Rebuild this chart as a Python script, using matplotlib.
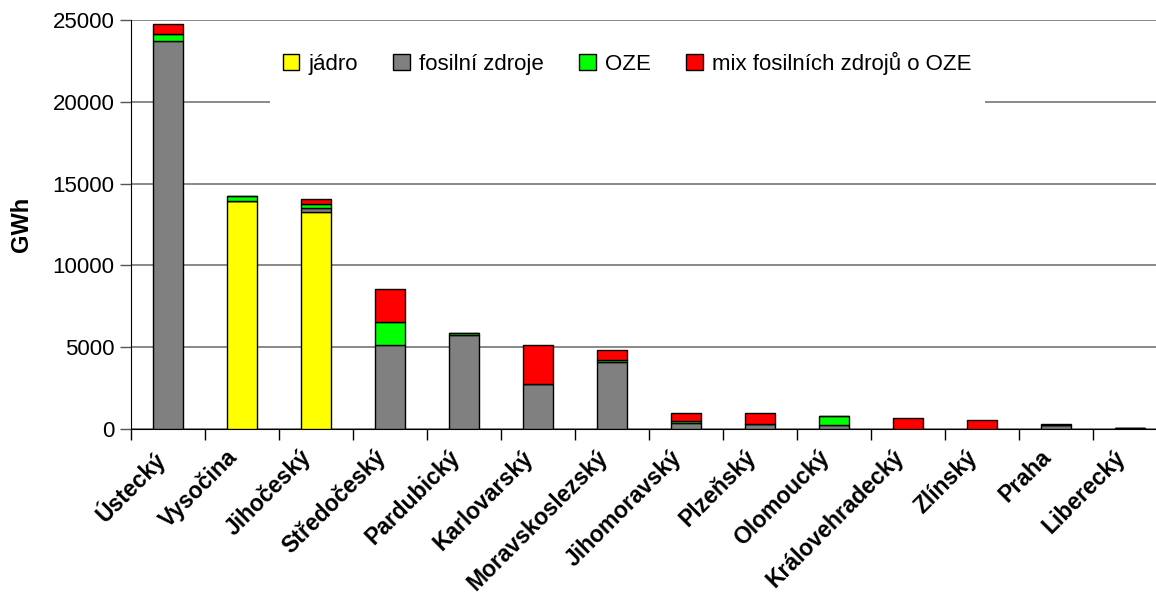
import matplotlib
matplotlib.use("Agg")
import matplotlib.pyplot as plt
from matplotlib.patches import Rectangle, Patch
from matplotlib.transforms import ScaledTranslation
import numpy as np

plt.rcParams['font.family'] = ['Liberation Sans', 'DejaVu Sans']

categories = ['Ústecký', 'Vysočina', 'Jihočeský', 'Středočeský', 'Pardubický',
              'Karlovarský', 'Moravskoslezský', 'Jihomoravský', 'Plzeňský',
              'Olomoucký', 'Královehradecký', 'Zlínský', 'Praha', 'Liberecký']
jadro = [0, 13940, 13260, 0, 0, 0, 0, 0, 0, 0, 0, 0, 0, 0]
fosilni = [23735, 0, 245, 5150, 5730, 2770, 4075, 345, 290, 245, 20, 10, 240, 80]
oze = [410, 320, 245, 1370, 150, 0, 140, 120, 0, 530, 0, 0, 0, 0]
mix = [600, 0, 310, 2040, 0, 2380, 610, 500, 680, 0, 660, 560, 40, 10]
series_names = ['jádro', 'fosilní zdroje', 'OZE', 'mix fosilních zdrojů o OZE']
colors = ['#ffff00', '#808080', '#00ff00', '#ff0000']
yticks = [0, 5000, 10000, 15000, 20000, 25000]

W, H = 1156, 594
fig = plt.figure(figsize=(W / 100, H / 100), dpi=100)
left, right, bottom, top = 131, 131 + 14 * 74, 429, 20
ax = fig.add_axes([left / W, (H - bottom) / H, (right - left) / W, (bottom - top) / H])

x = np.arange(len(categories))
base = np.zeros(len(categories))
for vals, col, name in zip([jadro, fosilni, oze, mix], colors, series_names):
    v = np.array(vals, dtype=float)
    ax.bar(x, v, bottom=base, width=0.405, color=col, edgecolor='black',
           linewidth=1.0, zorder=3, label=name)
    base += v

ax.set_xlim(-0.5, len(categories) - 0.5)
ax.set_ylim(0, 25000)
ax.set_yticks(yticks)
ax.set_yticklabels([str(t) for t in yticks], fontsize=16)
ax.yaxis.grid(True, color='#808080', linewidth=1.3)
ax.set_axisbelow(True)

ax.set_xticks(x)
ax.set_xticklabels(categories, rotation=45, ha='right', va='top',
                   rotation_mode='anchor', fontsize=16.5, fontweight='bold')
ax.tick_params(axis='x', length=0, pad=10)
offset = ScaledTranslation(-0.16, -0.03, fig.dpi_scale_trans)
for lab in ax.get_xticklabels():
    lab.set_transform(lab.get_transform() + offset)
ax.set_xticks(np.arange(-0.5, len(categories), 1.0), minor=True)
ax.tick_params(axis='x', which='minor', length=8, width=1, color='black')
ax.tick_params(axis='y', length=8, width=1, color='#555555', pad=4)

for s in ['top', 'right']:
    ax.spines[s].set_visible(False)
ax.spines['left'].set_color('black')
ax.spines['bottom'].set_color('black')

ax.set_ylabel('GWh', fontsize=17, fontweight='bold', labelpad=14)

# white legend area covering grid line
ax.add_patch(Rectangle((270, H - 104), 985 - 270, 104 - 22, transform=None,
                       facecolor='white', edgecolor='none', zorder=1))

handles = [Patch(facecolor=c, edgecolor='black', linewidth=1.0) for c in colors]
leg = fig.legend(handles, series_names, loc='center', ncol=4,
                 bbox_to_anchor=(627 / W, (H - 63) / H), frameon=False,
                 fontsize=16, handlelength=0.75, handleheight=0.75,
                 handletextpad=0.4, columnspacing=1.6)

fig.savefig('out.png', dpi=100)
